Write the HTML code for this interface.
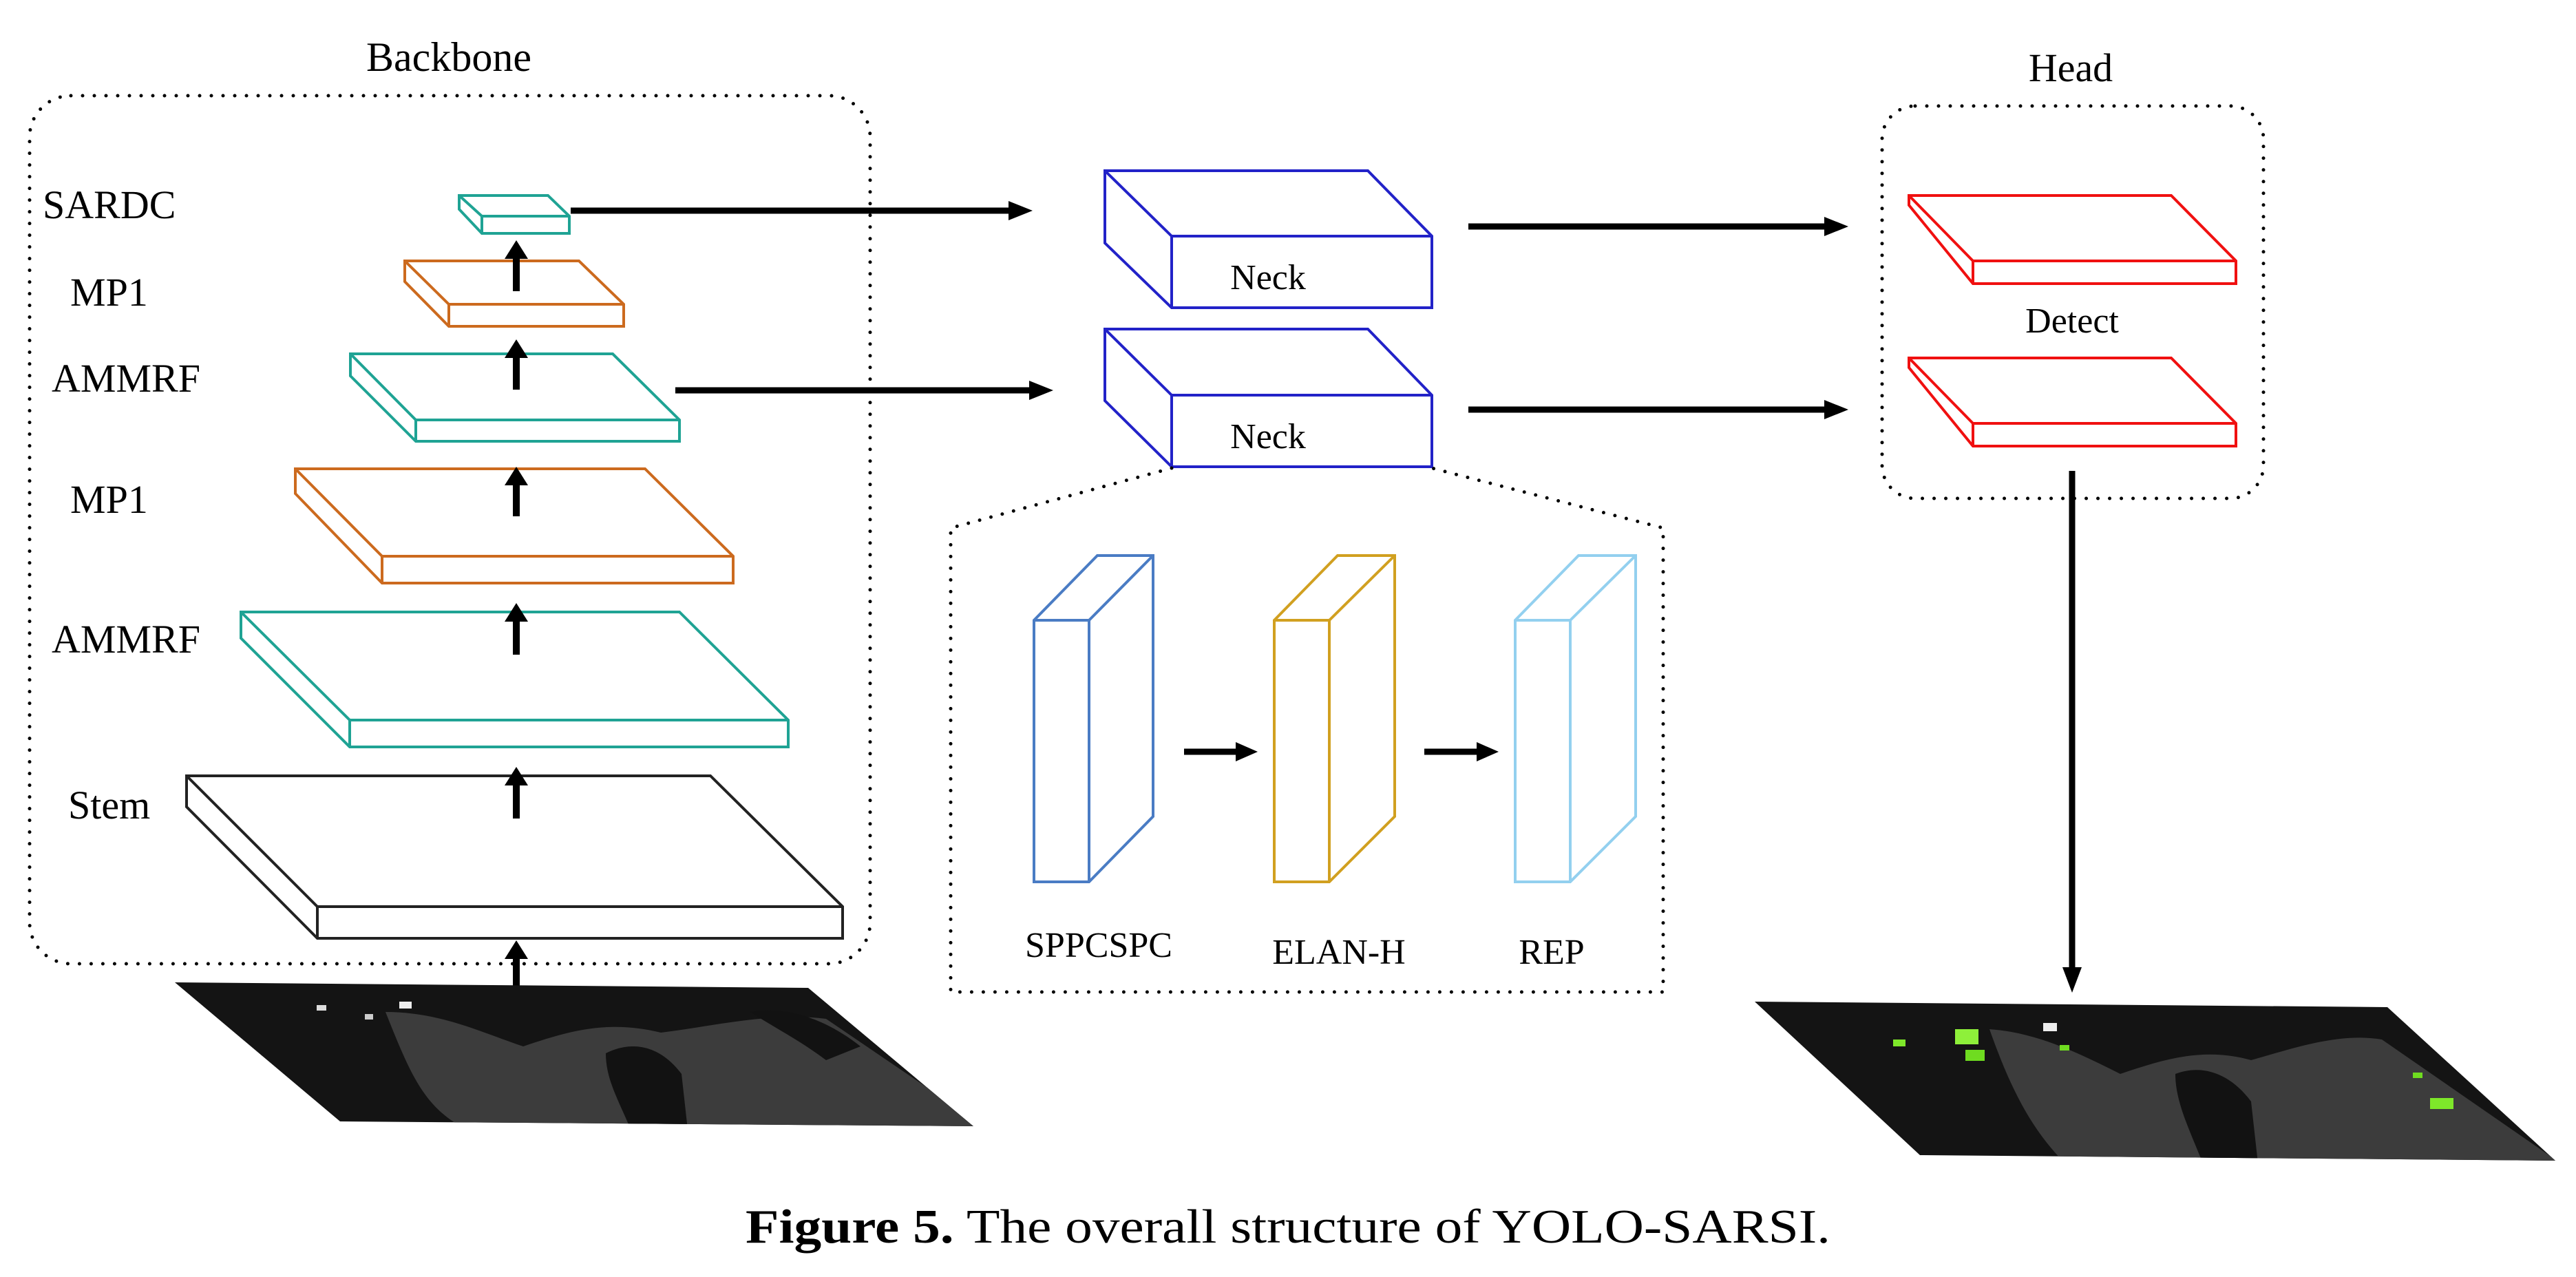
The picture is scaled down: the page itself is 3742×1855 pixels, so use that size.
<!DOCTYPE html>
<html><head><meta charset="utf-8"><style>
html,body{margin:0;padding:0;background:#fff}
svg{display:block}
text{font-family:"Liberation Serif",serif;fill:#000}
</style></head><body>
<svg width="3742" height="1855" viewBox="0 0 3742 1855" xmlns="http://www.w3.org/2000/svg">
<defs>
<marker id="ah" markerWidth="4" markerHeight="4" refX="1" refY="2" orient="auto" markerUnits="strokeWidth"><path d="M0,0 L4,2 L0,4 z" fill="#000"/></marker>
<clipPath id="c1"><polygon points="254,1427 1174,1435 1414,1636 494,1629"/></clipPath>
<clipPath id="c2"><polygon points="2549,1455 3468,1463 3712,1686 2789,1678"/></clipPath>
</defs>

<!-- Backbone -->
<text x="652" y="103" font-size="60" text-anchor="middle">Backbone</text>
<rect x="43" y="139" width="1221" height="1261" rx="60" fill="none" stroke="#000" stroke-width="5" stroke-dasharray="0 17" stroke-linecap="round"/>

<g font-size="58">
<text x="62" y="317">SARDC</text>
<text x="102" y="444">MP1</text>
<text x="75" y="569">AMMRF</text>
<text x="102" y="745">MP1</text>
<text x="75" y="948">AMMRF</text>
<text x="99" y="1189">Stem</text>
</g>

<g fill="#fff" stroke-width="4" stroke-linejoin="miter">
<!-- SARDC -->
<g stroke="#1fa394"><polygon points="667,284 796,284 827,314 827,339 700,339 667,304"/><polyline points="667,284 700,314 827,314" fill="none"/><line x1="700" y1="314" x2="700" y2="339"/></g>
<!-- MP1 top -->
<g stroke="#cc6a1e"><polygon points="588,379 841,379 906,442 906,474 652,474 588,409"/><polyline points="588,379 652,442 906,442" fill="none"/><line x1="652" y1="442" x2="652" y2="474"/></g>
<!-- AMMRF top -->
<g stroke="#1fa394"><polygon points="509,514 890,514 987,610 987,641 604,641 509,546"/><polyline points="509,514 604,610 987,610" fill="none"/><line x1="604" y1="610" x2="604" y2="641"/></g>
<!-- MP1 2 -->
<g stroke="#cc6a1e"><polygon points="429,681 937,681 1065,808 1065,847 555,847 429,717"/><polyline points="429,681 555,808 1065,808" fill="none"/><line x1="555" y1="808" x2="555" y2="847"/></g>
<!-- AMMRF 2 -->
<g stroke="#1fa394"><polygon points="350,889 987,889 1145,1046 1145,1085 508,1085 350,927"/><polyline points="350,889 508,1046 1145,1046" fill="none"/><line x1="508" y1="1046" x2="508" y2="1085"/></g>
<!-- Stem -->
<g stroke="#222"><polygon points="271,1127 1032,1127 1224,1317 1224,1363 461,1363 271,1172"/><polyline points="271,1127 461,1317 1224,1317" fill="none"/><line x1="461" y1="1317" x2="461" y2="1363"/></g>
</g>

<!-- up arrows -->
<g stroke="#000" stroke-width="10" fill="#000">
<line x1="750" y1="423" x2="750" y2="370"/><polygon points="733,376 767,376 750,349" stroke="none"/>
<line x1="750" y1="566" x2="750" y2="514"/><polygon points="733,520 767,520 750,493" stroke="none"/>
<line x1="750" y1="750" x2="750" y2="699"/><polygon points="733,705 767,705 750,678" stroke="none"/>
<line x1="750" y1="951" x2="750" y2="897"/><polygon points="733,903 767,903 750,876" stroke="none"/>
<line x1="750" y1="1189" x2="750" y2="1135"/><polygon points="733,1141 767,1141 750,1114" stroke="none"/>
<line x1="750" y1="1442" x2="750" y2="1387"/><polygon points="733,1393 767,1393 750,1366" stroke="none"/>
</g>

<!-- horizontal arrows -->
<g stroke="#000" stroke-width="9">
<line x1="829" y1="306" x2="1470" y2="306"/>
<line x1="981" y1="567" x2="1500" y2="567"/>
<line x1="2133" y1="329" x2="2655" y2="329"/>
<line x1="2133" y1="595" x2="2655" y2="595"/>
<line x1="3010" y1="684" x2="3010" y2="1410"/>
</g>
<g fill="#000">
<polygon points="1465,292 1500,306 1465,320"/>
<polygon points="1495,553 1530,567 1495,581"/>
<polygon points="2650,315 2685,329 2650,343"/>
<polygon points="2650,581 2685,595 2650,609"/>
<polygon points="2996,1405 3024,1405 3010,1442"/>
</g>

<!-- Necks -->
<g fill="#fff" stroke="#2222c8" stroke-width="4">
<polygon points="1605,248 1987,248 2080,343 2080,447 1702,447 1605,353"/><polyline points="1605,248 1702,343 2080,343" fill="none"/><line x1="1702" y1="343" x2="1702" y2="447"/>
<polygon points="1605,478 1987,478 2080,574 2080,678 1702,678 1605,582"/><polyline points="1605,478 1702,574 2080,574" fill="none"/><line x1="1702" y1="574" x2="1702" y2="678"/>
</g>
<text x="1842" y="420" font-size="52" text-anchor="middle">Neck</text>
<text x="1842" y="651" font-size="52" text-anchor="middle">Neck</text>

<!-- Neck expansion -->
<polyline points="1702,680 1381,767 1381,1441 2416,1441 2416,767 2080,680" fill="none" stroke="#000" stroke-width="5" stroke-dasharray="0 17" stroke-linecap="round"/>
<g fill="#fff" stroke-width="4">
<g stroke="#4a7cc4"><polygon points="1502,901 1594,807 1675,807 1675,1186 1582,1281 1502,1281"/><polyline points="1502,901 1582,901 1675,807" fill="none"/><line x1="1582" y1="901" x2="1582" y2="1281"/></g>
<g stroke="#d1a020"><polygon points="1851,901 1943,807 2026,807 2026,1186 1931,1281 1851,1281"/><polyline points="1851,901 1931,901 2026,807" fill="none"/><line x1="1931" y1="901" x2="1931" y2="1281"/></g>
<g stroke="#93d0ef"><polygon points="2201,901 2293,807 2376,807 2376,1186 2281,1281 2201,1281"/><polyline points="2201,901 2281,901 2376,807" fill="none"/><line x1="2281" y1="901" x2="2281" y2="1281"/></g>
</g>
<g stroke="#000" stroke-width="9"><line x1="1720" y1="1092" x2="1800" y2="1092"/><line x1="2069" y1="1092" x2="2150" y2="1092"/></g>
<g fill="#000"><polygon points="1795,1078 1827,1092 1795,1106"/><polygon points="2145,1078 2177,1092 2145,1106"/></g>
<g font-size="52" text-anchor="middle">
<text x="1596" y="1390">SPPCSPC</text>
<text x="1945" y="1400">ELAN-H</text>
<text x="2254" y="1400">REP</text>
</g>

<!-- Head -->
<text x="3008" y="118" font-size="58" text-anchor="middle">Head</text>
<rect x="2734" y="154" width="554" height="570" rx="48" fill="none" stroke="#000" stroke-width="5" stroke-dasharray="0 17" stroke-linecap="round"/>
<g fill="#fff" stroke="#f01010" stroke-width="4">
<polygon points="2773,284 3154,284 3248,379 3248,412 2866,412 2773,298"/><polyline points="2773,284 2866,379 3248,379" fill="none"/><line x1="2866" y1="379" x2="2866" y2="412"/>
<polygon points="2773,520 3154,520 3248,615 3248,648 2866,648 2773,534"/><polyline points="2773,520 2866,615 3248,615" fill="none"/><line x1="2866" y1="615" x2="2866" y2="648"/>
</g>
<text x="3010" y="483" font-size="52" text-anchor="middle">Detect</text>

<!-- SAR images -->
<g clip-path="url(#c1)">
<rect x="240" y="1420" width="1200" height="230" fill="#141414"/>
<path d="M560,1470 C640,1470 700,1500 760,1520 C820,1500 880,1480 960,1500 C1040,1490 1120,1470 1200,1480 L1450,1650 L700,1650 C620,1620 600,1570 560,1470 Z" fill="#3c3c3c"/>
<path d="M880,1530 C920,1510 960,1520 990,1560 L1000,1650 L920,1650 C900,1600 880,1570 880,1530Z" fill="#121212"/>
<path d="M1090,1470 C1140,1460 1200,1480 1250,1520 L1200,1540 C1160,1510 1120,1490 1090,1470Z" fill="#121212"/>
<rect x="460" y="1460" width="14" height="8" fill="#ddd"/><rect x="530" y="1473" width="12" height="8" fill="#ccc"/><rect x="580" y="1455" width="18" height="10" fill="#eee"/>
</g>
<g clip-path="url(#c2)">
<rect x="2540" y="1450" width="1180" height="240" fill="#141414"/>
<path d="M2890,1495 C2960,1500 3020,1530 3080,1560 C3140,1540 3200,1520 3270,1540 C3340,1520 3400,1500 3460,1510 L3720,1690 L3000,1690 C2950,1640 2920,1580 2890,1495 Z" fill="#3c3c3c"/>
<path d="M3160,1560 C3200,1545 3240,1560 3270,1600 L3280,1690 L3200,1690 C3180,1640 3160,1600 3160,1560Z" fill="#121212"/>
<rect x="2750" y="1510" width="18" height="10" fill="#7ee82a"/><rect x="2840" y="1495" width="34" height="22" fill="#8ef03a"/><rect x="2855" y="1525" width="28" height="16" fill="#6fdc20"/>
<rect x="2968" y="1486" width="20" height="12" fill="#eee"/><rect x="2992" y="1518" width="14" height="8" fill="#6fdc20"/>
<rect x="3505" y="1558" width="14" height="8" fill="#6fdc20"/><rect x="3530" y="1595" width="34" height="16" fill="#7ee82a"/>
</g>

<!-- caption -->
<text x="1083" y="1805" font-size="70" textLength="1576" lengthAdjust="spacingAndGlyphs"><tspan font-weight="bold">Figure 5.</tspan> The overall structure of YOLO-SARSI.</text>
</svg>
</body></html>
